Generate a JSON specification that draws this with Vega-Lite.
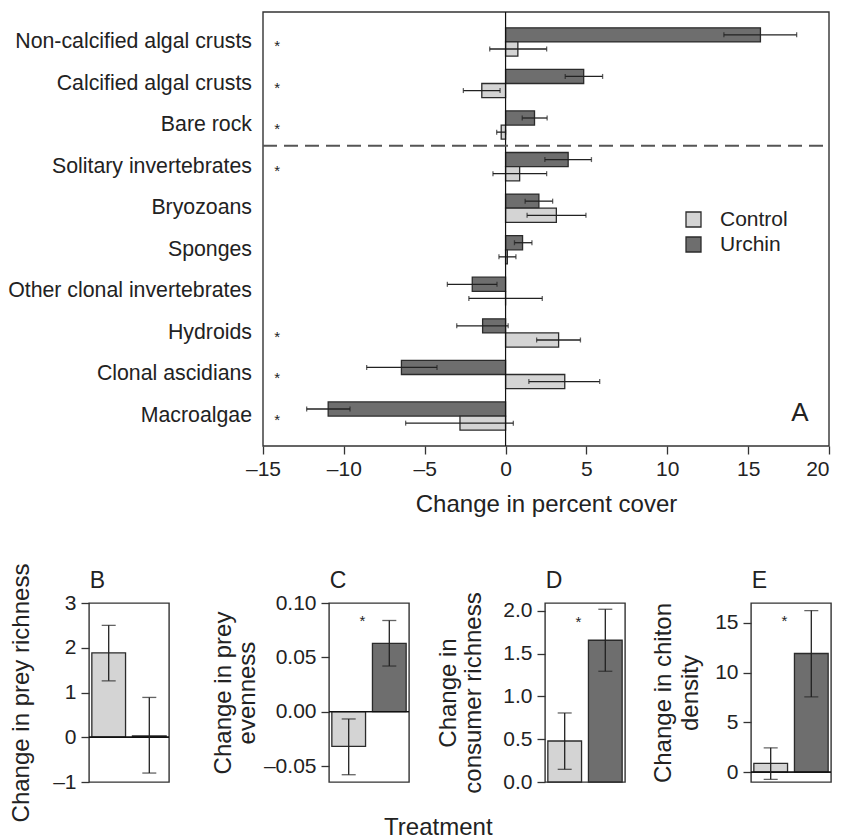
{
  "$schema": "https://vega.github.io/schema/vega-lite/v6.json",
  "padding": {"left": 8, "top": 11, "right": 5, "bottom": 0},
  "config": {
    "font": "Liberation Sans",
    "view": {"stroke": "#333", "strokeWidth": 1.4},
    "axis": {"labelFont": "Liberation Sans", "titleFont": "Liberation Sans", "labelFontSize": 21, "titleFontSize": 24, "titleFontWeight": "normal", "labelColor": "#222", "titleColor": "#222", "tickColor": "#333", "tickWidth": 1.3, "tickSize": 8, "grid": false, "domain": false, "labelPadding": 5},
    "title": {"font": "Liberation Sans", "fontWeight": "normal", "fontSize": 24, "color": "#222"}
  },
  "datasets": {
    "cover": [
      {"category": "Non-calcified algal crusts", "treatment": "Urchin", "mean": 15.76, "lo": 13.5, "hi": 18.0},
      {"category": "Non-calcified algal crusts", "treatment": "Control", "mean": 0.76, "lo": -0.98, "hi": 2.54},
      {"category": "Calcified algal crusts", "treatment": "Urchin", "mean": 4.83, "lo": 3.69, "hi": 6.0},
      {"category": "Calcified algal crusts", "treatment": "Control", "mean": -1.47, "lo": -2.61, "hi": -0.34},
      {"category": "Bare rock", "treatment": "Urchin", "mean": 1.79, "lo": 1.03, "hi": 2.57},
      {"category": "Bare rock", "treatment": "Control", "mean": -0.27, "lo": -0.55, "hi": 0.0},
      {"category": "Solitary invertebrates", "treatment": "Urchin", "mean": 3.87, "lo": 2.43, "hi": 5.31},
      {"category": "Solitary invertebrates", "treatment": "Control", "mean": 0.87, "lo": -0.78, "hi": 2.54},
      {"category": "Bryozoans", "treatment": "Urchin", "mean": 2.06, "lo": 1.21, "hi": 2.91},
      {"category": "Bryozoans", "treatment": "Control", "mean": 3.14, "lo": 1.33, "hi": 4.97},
      {"category": "Sponges", "treatment": "Urchin", "mean": 1.05, "lo": 0.55, "hi": 1.63},
      {"category": "Sponges", "treatment": "Control", "mean": 0.11, "lo": -0.41, "hi": 0.64},
      {"category": "Other clonal invertebrates", "treatment": "Urchin", "mean": -2.06, "lo": -3.6, "hi": -0.53},
      {"category": "Other clonal invertebrates", "treatment": "Control", "mean": 0.0, "lo": -2.27, "hi": 2.27},
      {"category": "Hydroids", "treatment": "Urchin", "mean": -1.42, "lo": -3.02, "hi": 0.16},
      {"category": "Hydroids", "treatment": "Control", "mean": 3.28, "lo": 1.92, "hi": 4.63},
      {"category": "Clonal ascidians", "treatment": "Urchin", "mean": -6.44, "lo": -8.59, "hi": -4.24},
      {"category": "Clonal ascidians", "treatment": "Control", "mean": 3.66, "lo": 1.44, "hi": 5.82},
      {"category": "Macroalgae", "treatment": "Urchin", "mean": -10.97, "lo": -12.3, "hi": -9.62},
      {"category": "Macroalgae", "treatment": "Control", "mean": -2.82, "lo": -6.18, "hi": 0.48}
    ],
    "categories": [
      {"category": "Non-calcified algal crusts"},
      {"category": "Calcified algal crusts"},
      {"category": "Bare rock"},
      {"category": "Solitary invertebrates"},
      {"category": "Bryozoans"},
      {"category": "Sponges"},
      {"category": "Other clonal invertebrates"},
      {"category": "Hydroids"},
      {"category": "Clonal ascidians"},
      {"category": "Macroalgae"}
    ],
    "stars": [
      {"category": "Non-calcified algal crusts", "mark": "*"},
      {"category": "Calcified algal crusts", "mark": "*"},
      {"category": "Bare rock", "mark": "*"},
      {"category": "Solitary invertebrates", "mark": "*"},
      {"category": "Hydroids", "mark": "*"},
      {"category": "Clonal ascidians", "mark": "*"},
      {"category": "Macroalgae", "mark": "*"}
    ],
    "B": [
      {"treatment": "Control", "mean": 1.886, "lo": 1.26, "hi": 2.5},
      {"treatment": "Urchin", "mean": 0.03, "lo": -0.8, "hi": 0.89}
    ],
    "C": [
      {"treatment": "Control", "mean": -0.032, "lo": -0.058, "hi": -0.0067},
      {"treatment": "Urchin", "mean": 0.0628, "lo": 0.042, "hi": 0.0839}
    ],
    "D": [
      {"treatment": "Control", "mean": 0.479, "lo": 0.148, "hi": 0.806},
      {"treatment": "Urchin", "mean": 1.655, "lo": 1.293, "hi": 2.017}
    ],
    "E": [
      {"treatment": "Control", "mean": 0.87, "lo": -0.73, "hi": 2.44},
      {"treatment": "Urchin", "mean": 11.92, "lo": 7.56, "hi": 16.24}
    ]
  },
  "resolve": {"scale": {"fill": "independent"}, "legend": {"fill": "independent"}},
  "columns": 1,
  "align": "none",
  "spacing": 46,
  "concat": [
    {
      "width": 740,
      "height": 434,
      "view": {"stroke": null},
      "layer": [
        {
          "data": {"name": "cover"},
          "mark": {"type": "bar", "stroke": "#2b2b2b", "strokeWidth": 1.3},
          "encoding": {
            "y": {"field": "category", "type": "nominal", "sort": ["Non-calcified algal crusts", "Calcified algal crusts", "Bare rock", "Solitary invertebrates", "Bryozoans", "Sponges", "Other clonal invertebrates", "Hydroids", "Clonal ascidians", "Macroalgae"], "scale": {"paddingInner": 0.32, "paddingOuter": 0.38}, "axis": null},
            "yOffset": {"field": "treatment", "type": "nominal", "sort": ["Urchin", "Control"], "scale": {"paddingInner": 0, "paddingOuter": 0}},
            "x": {"field": "mean", "type": "quantitative", "stack": null, "scale": {"domain": [-25.76, 20], "nice": false, "zero": false}, "axis": {"values": [-15, -10, -5, 0, 5, 10, 15, 20], "title": "Change in percent cover", "titleX": 457, "labelExpr": "replace(datum.label, '\u2212', '\u2013')", "titlePadding": 13, "labelPadding": 4}},
            "fill": {"field": "treatment", "type": "nominal", "scale": {"domain": ["Control", "Urchin"], "range": ["#d4d4d4", "#6e6e6e"]}, "legend": {"orient": "none", "legendX": 594, "legendY": 197, "title": null, "symbolType": "square", "symbolSize": 225, "symbolStrokeColor": "#2b2b2b", "symbolStrokeWidth": 1.3, "labelFontSize": 21, "labelFont": "Liberation Sans", "labelColor": "#222", "labelOffset": 16, "rowPadding": 3, "labelLimit": 200}}
          }
        },
        {
          "data": {"values": [{"left": -15, "right": 20}]},
          "mark": {"type": "rect", "fill": null, "stroke": "#333", "strokeWidth": 1.4},
          "encoding": {"x": {"field": "left", "type": "quantitative"}, "x2": {"field": "right"}}
        },
        {
          "data": {"name": "categories"},
          "mark": {"type": "text", "fontSize": 21.3, "color": "#222", "align": "right", "baseline": "middle", "dx": -11},
          "encoding": {
            "y": {"field": "category", "type": "nominal", "sort": ["Non-calcified algal crusts", "Calcified algal crusts", "Bare rock", "Solitary invertebrates", "Bryozoans", "Sponges", "Other clonal invertebrates", "Hydroids", "Clonal ascidians", "Macroalgae"]},
            "x": {"datum": -15},
            "text": {"field": "category"}
          }
        },
        {
          "data": {"name": "cover"},
          "mark": {"type": "rule", "color": "#222", "strokeWidth": 1.3},
          "encoding": {
            "y": {"field": "category", "type": "nominal", "sort": ["Non-calcified algal crusts", "Calcified algal crusts", "Bare rock", "Solitary invertebrates", "Bryozoans", "Sponges", "Other clonal invertebrates", "Hydroids", "Clonal ascidians", "Macroalgae"]},
            "yOffset": {"field": "treatment", "type": "nominal", "sort": ["Urchin", "Control"]},
            "x": {"field": "lo", "type": "quantitative"},
            "x2": {"field": "hi"}
          }
        },
        {
          "data": {"name": "cover"},
          "mark": {"type": "tick", "color": "#222", "size": 5, "thickness": 1.3},
          "encoding": {
            "y": {"field": "category", "type": "nominal", "sort": ["Non-calcified algal crusts", "Calcified algal crusts", "Bare rock", "Solitary invertebrates", "Bryozoans", "Sponges", "Other clonal invertebrates", "Hydroids", "Clonal ascidians", "Macroalgae"]},
            "yOffset": {"field": "treatment", "type": "nominal", "sort": ["Urchin", "Control"]},
            "x": {"field": "lo", "type": "quantitative"}
          }
        },
        {
          "data": {"name": "cover"},
          "mark": {"type": "tick", "color": "#222", "size": 5, "thickness": 1.3},
          "encoding": {
            "y": {"field": "category", "type": "nominal", "sort": ["Non-calcified algal crusts", "Calcified algal crusts", "Bare rock", "Solitary invertebrates", "Bryozoans", "Sponges", "Other clonal invertebrates", "Hydroids", "Clonal ascidians", "Macroalgae"]},
            "yOffset": {"field": "treatment", "type": "nominal", "sort": ["Urchin", "Control"]},
            "x": {"field": "hi", "type": "quantitative"}
          }
        },
        {
          "data": {"values": [{"zero": 0}]},
          "mark": {"type": "rule", "color": "#111", "strokeWidth": 1.2},
          "encoding": {"x": {"field": "zero", "type": "quantitative"}}
        },
        {
          "data": {"values": [{"category": "Bare rock", "left": -15, "right": 20}]},
          "mark": {"type": "rule", "color": "#555", "strokeWidth": 2, "strokeDash": [14, 7]},
          "encoding": {
            "y": {"field": "category", "type": "nominal", "sort": ["Non-calcified algal crusts", "Calcified algal crusts", "Bare rock", "Solitary invertebrates", "Bryozoans", "Sponges", "Other clonal invertebrates", "Hydroids", "Clonal ascidians", "Macroalgae"], "bandPosition": 1.235},
            "x": {"field": "left", "type": "quantitative"},
            "x2": {"field": "right"}
          }
        },
        {
          "data": {"name": "stars"},
          "mark": {"type": "text", "fontSize": 15, "color": "#222", "dy": 4},
          "encoding": {
            "y": {"field": "category", "type": "nominal", "sort": ["Non-calcified algal crusts", "Calcified algal crusts", "Bare rock", "Solitary invertebrates", "Bryozoans", "Sponges", "Other clonal invertebrates", "Hydroids", "Clonal ascidians", "Macroalgae"]},
            "x": {"datum": -14.13},
            "text": {"field": "mark"}
          }
        },
        {
          "data": {"values": [{"label": "A", "category": "Macroalgae"}]},
          "mark": {"type": "text", "fontSize": 26, "color": "#222", "dy": -3},
          "encoding": {
            "y": {"field": "category", "type": "nominal", "sort": ["Non-calcified algal crusts", "Calcified algal crusts", "Bare rock", "Solitary invertebrates", "Bryozoans", "Sponges", "Other clonal invertebrates", "Hydroids", "Clonal ascidians", "Macroalgae"]},
            "x": {"datum": 18.2},
            "text": {"field": "label"}
          }
        }
      ]
    },
    {
      "title": {"text": "Treatment", "orient": "bottom", "anchor": "middle", "offset": -7, "dx": 18, "fontSize": 24},
      "spacing": 39,
      "hconcat": [
        {
          "width": 80,
          "height": 179,
          "data": {"name": "B"},
          "layer": [
            {
              "mark": {"type": "bar", "stroke": "#2b2b2b", "strokeWidth": 1.3},
              "encoding": {
                "x": {"field": "treatment", "type": "nominal", "sort": ["Control", "Urchin"], "scale": {"paddingInner": 0.17, "paddingOuter": 0.07}, "axis": null},
                "y": {"field": "mean", "type": "quantitative", "scale": {"domain": [-1, 3], "nice": false, "zero": false}, "axis": {"values": [-1, 0, 1, 2, 3], "format": "d", "labelExpr": "replace(datum.label, '\u2212', '\u2013')", "title": "Change in prey richness", "titleX": -68, "titleY": 89.5, "titleAngle": 270, "titleBaseline": "middle", "titleAlign": "center"}},
                "fill": {"field": "treatment", "type": "nominal", "scale": {"domain": ["Control", "Urchin"], "range": ["#d4d4d4", "#6e6e6e"]}, "legend": null}
              }
            },
            {
              "mark": {"type": "rule", "color": "#111", "strokeWidth": 1.3},
              "encoding": {"y": {"datum": 0}}
            },
            {
              "mark": {"type": "rule", "color": "#222", "strokeWidth": 1.3},
              "encoding": {"x": {"field": "treatment", "type": "nominal", "sort": ["Control", "Urchin"]}, "y": {"field": "lo", "type": "quantitative"}, "y2": {"field": "hi"}}
            },
            {
              "mark": {"type": "tick", "color": "#222", "size": 14, "thickness": 1.3},
              "encoding": {"x": {"field": "treatment", "type": "nominal", "sort": ["Control", "Urchin"]}, "y": {"field": "lo", "type": "quantitative"}}
            },
            {
              "mark": {"type": "tick", "color": "#222", "size": 14, "thickness": 1.3},
              "encoding": {"x": {"field": "treatment", "type": "nominal", "sort": ["Control", "Urchin"]}, "y": {"field": "hi", "type": "quantitative"}}
            },
            {
              "data": {"values": [{"treatment": "Control", "letter": "B"}]},
              "mark": {"type": "text", "fontSize": 23, "color": "#222", "align": "left", "baseline": "alphabetic", "dx": -2, "dy": -15},
              "encoding": {"x": {"field": "treatment", "type": "nominal", "bandPosition": 0}, "y": {"datum": 3}, "text": {"field": "letter"}}
            }
          ]
        },
        {
          "spacing": 24,
          "hconcat": [
            {
              "width": 80,
              "height": 179,
              "data": {"name": "C"},
              "layer": [
                {
                  "mark": {"type": "bar", "stroke": "#2b2b2b", "strokeWidth": 1.3},
                  "encoding": {
                    "x": {"field": "treatment", "type": "nominal", "sort": ["Control", "Urchin"], "scale": {"paddingInner": 0.17, "paddingOuter": 0.07}, "axis": null},
                    "y": {"field": "mean", "type": "quantitative", "scale": {"domain": [-0.0647, 0.1], "nice": false, "zero": false}, "axis": {"values": [-0.05, 0, 0.05, 0.1], "format": ".2f", "labelExpr": "replace(datum.label, '\u2212', '\u2013')", "title": ["Change in prey", "evenness"], "titleX": -106, "titleY": 89.5, "titleAngle": 270, "titleBaseline": "middle", "titleAlign": "center", "titleLineHeight": 24}},
                    "fill": {"field": "treatment", "type": "nominal", "scale": {"domain": ["Control", "Urchin"], "range": ["#d4d4d4", "#6e6e6e"]}, "legend": null}
                  }
                },
                {
                  "mark": {"type": "rule", "color": "#111", "strokeWidth": 1.3},
                  "encoding": {"y": {"datum": 0}}
                },
                {
                  "mark": {"type": "rule", "color": "#222", "strokeWidth": 1.3},
                  "encoding": {"x": {"field": "treatment", "type": "nominal", "sort": ["Control", "Urchin"]}, "y": {"field": "lo", "type": "quantitative"}, "y2": {"field": "hi"}}
                },
                {
                  "mark": {"type": "tick", "color": "#222", "size": 14, "thickness": 1.3},
                  "encoding": {"x": {"field": "treatment", "type": "nominal", "sort": ["Control", "Urchin"]}, "y": {"field": "lo", "type": "quantitative"}}
                },
                {
                  "mark": {"type": "tick", "color": "#222", "size": 14, "thickness": 1.3},
                  "encoding": {"x": {"field": "treatment", "type": "nominal", "sort": ["Control", "Urchin"]}, "y": {"field": "hi", "type": "quantitative"}}
                },
                {
                  "data": {"values": [{"treatment": "Urchin", "value": 0.087, "mark": "*"}]},
                  "mark": {"type": "text", "fontSize": 15, "color": "#222", "dx": -10, "dy": 4},
                  "encoding": {"x": {"field": "treatment", "type": "nominal", "bandPosition": 0}, "y": {"field": "value", "type": "quantitative"}, "text": {"field": "mark"}}
                },
                {
                  "data": {"values": [{"treatment": "Control", "letter": "C"}]},
                  "mark": {"type": "text", "fontSize": 23, "color": "#222", "align": "left", "baseline": "alphabetic", "dx": -2, "dy": -15},
                  "encoding": {"x": {"field": "treatment", "type": "nominal", "bandPosition": 0}, "y": {"datum": 0.1}, "text": {"field": "letter"}}
                }
              ]
            },
            {
              "width": 80,
              "height": 179,
              "data": {"name": "D"},
              "layer": [
                {
                  "mark": {"type": "bar", "stroke": "#2b2b2b", "strokeWidth": 1.3},
                  "encoding": {
                    "x": {"field": "treatment", "type": "nominal", "sort": ["Control", "Urchin"], "scale": {"paddingInner": 0.17, "paddingOuter": 0.07}, "axis": null},
                    "y": {"field": "mean", "type": "quantitative", "scale": {"domain": [0, 2.09], "nice": false, "zero": false}, "axis": {"values": [0, 0.5, 1, 1.5, 2], "format": ".1f", "title": ["Change in", "consumer richness"], "titleX": -97, "titleY": 89.5, "titleAngle": 270, "titleBaseline": "middle", "titleAlign": "center", "titleLineHeight": 25}},
                    "fill": {"field": "treatment", "type": "nominal", "scale": {"domain": ["Control", "Urchin"], "range": ["#d4d4d4", "#6e6e6e"]}, "legend": null}
                  }
                },
                {
                  "mark": {"type": "rule", "color": "#222", "strokeWidth": 1.3},
                  "encoding": {"x": {"field": "treatment", "type": "nominal", "sort": ["Control", "Urchin"]}, "y": {"field": "lo", "type": "quantitative"}, "y2": {"field": "hi"}}
                },
                {
                  "mark": {"type": "tick", "color": "#222", "size": 14, "thickness": 1.3},
                  "encoding": {"x": {"field": "treatment", "type": "nominal", "sort": ["Control", "Urchin"]}, "y": {"field": "lo", "type": "quantitative"}}
                },
                {
                  "mark": {"type": "tick", "color": "#222", "size": 14, "thickness": 1.3},
                  "encoding": {"x": {"field": "treatment", "type": "nominal", "sort": ["Control", "Urchin"]}, "y": {"field": "hi", "type": "quantitative"}}
                },
                {
                  "data": {"values": [{"treatment": "Urchin", "value": 1.92, "mark": "*"}]},
                  "mark": {"type": "text", "fontSize": 15, "color": "#222", "dx": -10, "dy": 4},
                  "encoding": {"x": {"field": "treatment", "type": "nominal", "bandPosition": 0}, "y": {"field": "value", "type": "quantitative"}, "text": {"field": "mark"}}
                },
                {
                  "data": {"values": [{"treatment": "Control", "letter": "D"}]},
                  "mark": {"type": "text", "fontSize": 23, "color": "#222", "align": "left", "baseline": "alphabetic", "dx": -2, "dy": -15},
                  "encoding": {"x": {"field": "treatment", "type": "nominal", "bandPosition": 0}, "y": {"datum": 2.09}, "text": {"field": "letter"}}
                }
              ]
            },
            {
              "width": 80,
              "height": 179,
              "data": {"name": "E"},
              "layer": [
                {
                  "mark": {"type": "bar", "stroke": "#2b2b2b", "strokeWidth": 1.3},
                  "encoding": {
                    "x": {"field": "treatment", "type": "nominal", "sort": ["Control", "Urchin"], "scale": {"paddingInner": 0.17, "paddingOuter": 0.07}, "axis": null},
                    "y": {"field": "mean", "type": "quantitative", "scale": {"domain": [-1, 17], "nice": false, "zero": false}, "axis": {"values": [0, 5, 10, 15], "format": "d", "title": ["Change in chiton", "density"], "titleX": -88, "titleY": 89.5, "titleAngle": 270, "titleBaseline": "middle", "titleAlign": "center", "titleLineHeight": 27}},
                    "fill": {"field": "treatment", "type": "nominal", "scale": {"domain": ["Control", "Urchin"], "range": ["#d4d4d4", "#6e6e6e"]}, "legend": null}
                  }
                },
                {
                  "mark": {"type": "rule", "color": "#111", "strokeWidth": 1.3},
                  "encoding": {"y": {"datum": 0}}
                },
                {
                  "mark": {"type": "rule", "color": "#222", "strokeWidth": 1.3},
                  "encoding": {"x": {"field": "treatment", "type": "nominal", "sort": ["Control", "Urchin"]}, "y": {"field": "lo", "type": "quantitative"}, "y2": {"field": "hi"}}
                },
                {
                  "mark": {"type": "tick", "color": "#222", "size": 14, "thickness": 1.3},
                  "encoding": {"x": {"field": "treatment", "type": "nominal", "sort": ["Control", "Urchin"]}, "y": {"field": "lo", "type": "quantitative"}}
                },
                {
                  "mark": {"type": "tick", "color": "#222", "size": 14, "thickness": 1.3},
                  "encoding": {"x": {"field": "treatment", "type": "nominal", "sort": ["Control", "Urchin"]}, "y": {"field": "hi", "type": "quantitative"}}
                },
                {
                  "data": {"values": [{"treatment": "Urchin", "value": 15.6, "mark": "*"}]},
                  "mark": {"type": "text", "fontSize": 15, "color": "#222", "dx": -10, "dy": 4},
                  "encoding": {"x": {"field": "treatment", "type": "nominal", "bandPosition": 0}, "y": {"field": "value", "type": "quantitative"}, "text": {"field": "mark"}}
                },
                {
                  "data": {"values": [{"treatment": "Control", "letter": "E"}]},
                  "mark": {"type": "text", "fontSize": 23, "color": "#222", "align": "left", "baseline": "alphabetic", "dx": -2, "dy": -15},
                  "encoding": {"x": {"field": "treatment", "type": "nominal", "bandPosition": 0}, "y": {"datum": 17}, "text": {"field": "letter"}}
                }
              ]
            }
          ]
        }
      ]
    }
  ]
}
